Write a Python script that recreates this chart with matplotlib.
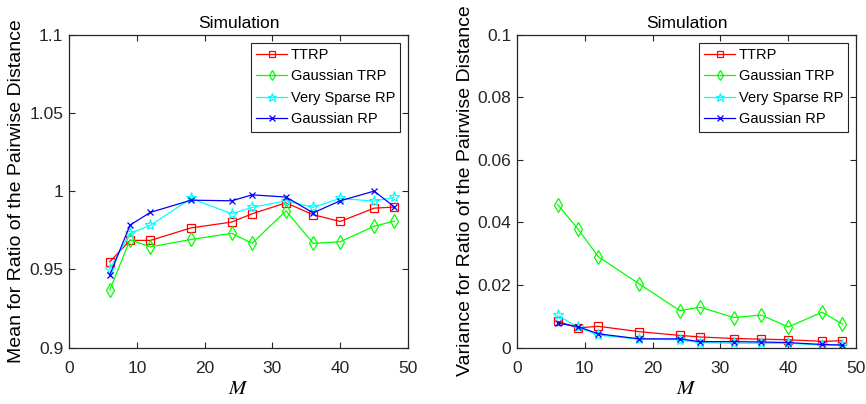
import matplotlib
matplotlib.use("Agg")
import matplotlib.pyplot as plt
import matplotlib.ticker as ticker

plt.rcParams['font.family'] = ['Liberation Sans', 'DejaVu Sans']
plt.rcParams['mathtext.fontset'] = 'stix'

M = [6, 9, 12, 18, 24, 27, 32, 36, 40, 45, 48]

names = ["TTRP", "Gaussian TRP", "Very Sparse RP", "Gaussian RP"]

mean_ttrp = [0.9548, 0.9685, 0.9685, 0.9765, 0.9802, 0.9855, 0.9925, 0.9849, 0.9806, 0.9891, 0.9898]
mean_gtrp = [0.9367, 0.9689, 0.9644, 0.9691, 0.9730, 0.9666, 0.9874, 0.9666, 0.9676, 0.9776, 0.9808]
mean_vsrp = [0.9500, 0.9730, 0.9781, 0.9953, 0.9855, 0.9896, 0.9938, 0.9896, 0.9953, 0.9936, 0.9960]
mean_grp = [0.9463, 0.9783, 0.9864, 0.9942, 0.9938, 0.9976, 0.9962, 0.9861, 0.9938, 1.0000, 0.9898]

var_ttrp = [0.0084, 0.0063, 0.0068, 0.0051, 0.0039, 0.0034, 0.0029, 0.0027, 0.0025, 0.0020, 0.0022]
var_gtrp = [0.0457, 0.0379, 0.0290, 0.0204, 0.0118, 0.0129, 0.0096, 0.0104, 0.0066, 0.0113, 0.0075]
var_vsrp = [0.0103, 0.0065, 0.0040, 0.0027, 0.0025, 0.0016, 0.0014, 0.0014, 0.0014, 0.0008, 0.0009]
var_grp = [0.0078, 0.0067, 0.0044, 0.0028, 0.0028, 0.0019, 0.0019, 0.0018, 0.0016, 0.0010, 0.0008]

styles = [
	dict(color='red', marker='s', ms=5.5, mfc='none'),
	dict(color='#00ff00', marker='d', ms=7, mfc='none'),
	dict(color='cyan', marker='*', ms=8, mfc='none'),
	dict(color='blue', marker='x', ms=5),
]

def fmt_g(x, pos):
	return f'{x:g}'

def draw(ax, series, ylim, yticks, ylabel):
	for vals, name, st in zip(series, names, styles):
		ax.plot(M, vals, lw=0.9, mew=0.9, label=name, **st)
	ax.set_xlim(0, 50)
	ax.set_ylim(*ylim)
	ax.set_xticks([0, 10, 20, 30, 40, 50])
	ax.set_yticks(yticks)
	ax.yaxis.set_major_formatter(ticker.FuncFormatter(fmt_g))
	ax.tick_params(direction='in', top=True, right=True, labelsize=12.5, length=4,
		color='#262626', labelcolor='#262626', width=0.8)
	ax.tick_params(axis='x', pad=9.5)
	ax.tick_params(axis='y', pad=4)
	for s in ax.spines.values():
		s.set_color('#262626')
		s.set_linewidth(0.9)
	ax.set_title("Simulation", fontsize=12.5, pad=5)
	ax.set_xlabel("$M$", fontsize=15, labelpad=2)
	ax.set_ylabel(ylabel, fontsize=14, labelpad=3)
	leg = ax.legend(loc='upper right', fontsize=10.5, fancybox=False, framealpha=1,
		edgecolor='#262626', handlelength=2.1, handletextpad=0.25, borderpad=0.35,
		labelspacing=0.52, borderaxespad=0.55, markerscale=0.8)
	leg.get_frame().set_linewidth(0.8)

fig = plt.figure(figsize=(8.66, 4.04), dpi=100)
ax1 = fig.add_axes([0.0797, 0.1396, 0.3915, 0.7748])
ax2 = fig.add_axes([0.597, 0.1396, 0.3915, 0.7748])

draw(ax1, [mean_ttrp, mean_gtrp, mean_vsrp, mean_grp], (0.9, 1.1),
	[0.9, 0.95, 1.0, 1.05, 1.1], "Mean for Ratio of the Pairwise Distance")
draw(ax2, [var_ttrp, var_gtrp, var_vsrp, var_grp], (0, 0.1),
	[0, 0.02, 0.04, 0.06, 0.08, 0.1], "Variance for Ratio of the Pairwise Distance")

fig.savefig("out.png", dpi=100)
